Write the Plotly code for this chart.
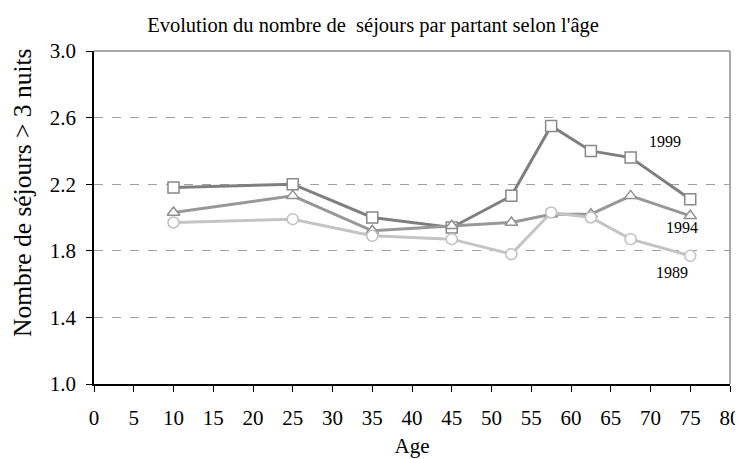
import plotly.graph_objects as go

ages = [10, 25, 35, 45, 52.5, 57.5, 62.5, 67.5, 75]
s1999 = [2.18, 2.20, 2.00, 1.94, 2.13, 2.55, 2.40, 2.36, 2.11]
s1994 = [2.03, 2.13, 1.92, 1.95, 1.97, 2.02, 2.02, 2.13, 2.01]
s1989 = [1.97, 1.99, 1.89, 1.87, 1.78, 2.03, 2.00, 1.87, 1.77]

series_names = ["1999", "1994", "1989"]
label_pos = {"1999": (71.8, 2.455), "1994": (74.0, 1.94), "1989": (72.7, 1.67)}

FONT = "Liberation Serif"

# the page body has an 8px default margin; the figure is sized to fit the window
W, H, OFF = 735, 451, 8

fig = go.Figure()
fig.add_trace(go.Scatter(
    x=ages, y=s1999, mode="lines+markers", name="1999",
    line=dict(color="#7f7f7f", width=3),
    marker=dict(symbol="square", size=11, color="white",
                line=dict(color="#888888", width=1.5)),
))
fig.add_trace(go.Scatter(
    x=ages, y=s1994, mode="lines+markers", name="1994",
    line=dict(color="#989898", width=3),
    marker=dict(symbol="triangle-up", size=11, color="white",
                line=dict(color="#909090", width=1.5)),
))
fig.add_trace(go.Scatter(
    x=ages, y=s1989, mode="lines+markers", name="1989",
    line=dict(color="#c4c4c4", width=3),
    marker=dict(symbol="circle", size=11, color="white",
                line=dict(color="#c0c0c0", width=1.5)),
))

for name in series_names:
    x, y = label_pos[name]
    fig.add_annotation(x=x, y=y, text=name, showarrow=False,
                       font=dict(family=FONT, size=16, color="black"))

# y-axis title (placed like the reference, slightly above the axis centre)
fig.add_annotation(text="Nombre de séjours > 3 nuits", textangle=-90,
                   xref="paper", yref="paper", x=0, y=(384 - 193) / 333,
                   xanchor="center", yanchor="middle", xshift=-(94 - 22),
                   showarrow=False, font=dict(family=FONT, size=25.5, color="black"))

# gray frame on top and right
fig.add_shape(type="line", xref="paper", yref="paper", x0=0, x1=1, y0=1, y1=1,
              line=dict(color="#8c8c8c", width=1.5), layer="below")
fig.add_shape(type="line", xref="paper", yref="paper", x0=1, x1=1, y0=0, y1=1,
              line=dict(color="#8c8c8c", width=1.5), layer="below")

fig.update_layout(
    width=W, height=H,
    margin=dict(l=94 - OFF, r=13, t=51 - OFF, b=(459 - 384), autoexpand=False),
    paper_bgcolor="white", plot_bgcolor="white",
    showlegend=False,
    font=dict(family=FONT, color="black"),
    title=dict(text="Evolution du nombre de  séjours par partant selon l'âge",
               x=(373 - OFF) / W, xref="container", xanchor="center",
               y=1 - (25 - OFF) / H, yanchor="middle",
               font=dict(family=FONT, size=20.5, color="black")),
    xaxis=dict(range=[0, 80], dtick=5, tick0=0, showgrid=False, zeroline=False,
               automargin=False,
               showline=True, linecolor="black", linewidth=1.5,
               ticks="outside", ticklen=6, tickcolor="black",
               ticklabelstandoff=8,
               tickfont=dict(family=FONT, size=21),
               title=dict(text="Age", font=dict(family=FONT, size=21), standoff=9)),
    yaxis=dict(range=[1.0, 3.0], dtick=0.4, tick0=1.0, tickformat=".1f",
               automargin=False,
               showgrid=True, gridcolor="#a0a0a0", griddash="dash", gridwidth=1,
               zeroline=False, showline=True, linecolor="black", linewidth=1.5,
               ticks="outside", ticklen=6, tickcolor="black",
               ticklabelstandoff=6,
               tickfont=dict(family=FONT, size=21)),
)

fig.write_html("out.html")
